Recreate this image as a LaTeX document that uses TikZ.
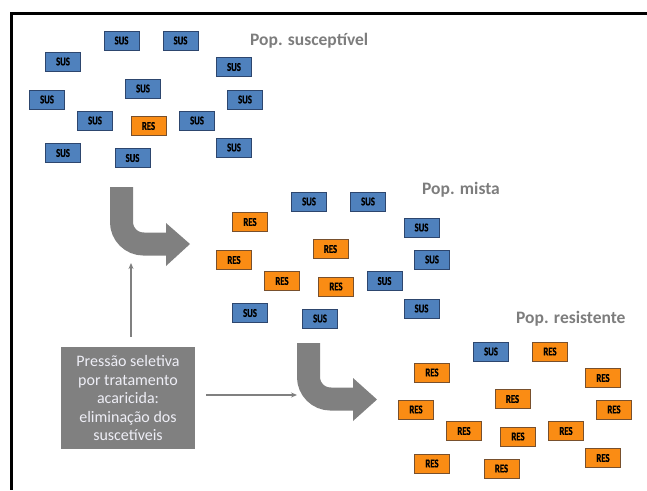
\documentclass[tikz,border=0pt]{standalone}
\usepackage{fontspec}
\setmainfont{Carlito}
\newfontfamily\boxfont[FakeStretch=0.72,FakeBold=0.6]{Carlito}
\usetikzlibrary{arrows.meta}
\definecolor{susblue}{RGB}{79,129,189}
\definecolor{susedge}{RGB}{45,70,110}
\definecolor{resorange}{RGB}{250,140,20}
\definecolor{resedge}{RGB}{120,80,45}
\definecolor{arrowgray}{RGB}{128,128,128}
\definecolor{titlegray}{RGB}{125,125,125}
\definecolor{boxgray}{RGB}{128,128,128}
\definecolor{boxtext}{RGB}{238,238,246}
\begin{document}
\begin{tikzpicture}[x=1pt,y=-1pt,
  cell/.style={draw, line width=0.8pt, minimum width=35pt, minimum height=19pt, inner sep=0pt,
    font=\boxfont\bfseries\fontsize{12}{12}\selectfont, text=black},
  sus/.style={cell, fill=susblue, draw=susedge},
  res/.style={cell, fill=resorange, draw=resedge},
  title/.style={anchor=west, inner sep=0pt, text=titlegray, font=\bfseries\fontsize{17.5}{17.5}\selectfont},
  bigarrow/.style={line width=23pt, draw=arrowgray, rounded corners=22pt},
  thinarrow/.style={draw=arrowgray, line width=1.2pt, -{Stealth[length=6pt,width=5pt]}}
]
\useasboundingbox (0,0) rectangle (647,490);
% frame
\draw[line width=2.8pt] (647,13.5) -- (11.3,13.5) -- (11.3,490);

% population 1
\node[sus] (a1) at (121.5,40.5) {SUS};
\node[sus] (a2) at (180.5,40.5) {SUS};
\node[sus] (a3) at (63,61.5) {SUS};
\node[sus] (a4) at (234,67) {SUS};
\node[sus] (a5) at (143,88.5) {SUS};
\node[sus] (a6) at (47,99.5) {SUS};
\node[sus] (a7) at (245,99.5) {SUS};
\node[sus] (a8) at (95,120.5) {SUS};
\node[res] (a9) at (148.5,126) {RES};
\node[sus] (a10) at (197,120.5) {SUS};
\node[sus] (a11) at (63,153) {SUS};
\node[sus] (a12) at (234,147.5) {SUS};
\node[sus] (a13) at (132.5,158) {SUS};
\node[title] (t1) at (250,41) {Pop. susceptível};

% population 2
\node[res] (b1) at (250,222) {RES};
\node[sus] (b2) at (309,201.5) {SUS};
\node[sus] (b3) at (368,201.5) {SUS};
\node[sus] (b4) at (421.5,227.5) {SUS};
\node[res] (b5) at (330.5,249) {RES};
\node[res] (b6) at (234,260) {RES};
\node[sus] (b7) at (432,259.5) {SUS};
\node[res] (b8) at (282,281) {RES};
\node[res] (b9) at (336,286.5) {RES};
\node[sus] (b10) at (384.5,281) {SUS};
\node[sus] (b11) at (250,313) {SUS};
\node[sus] (b12) at (320,318.5) {SUS};
\node[sus] (b13) at (421.5,308.5) {SUS};
\node[title] (t2) at (422,190) {Pop. mista};

% population 3
\node[sus] (c1) at (491,351.5) {SUS};
\node[res] (c2) at (550,351.5) {RES};
\node[res] (c3) at (432,372.5) {RES};
\node[res] (c4) at (603,378) {RES};
\node[res] (c5) at (512.5,399) {RES};
\node[res] (c6) at (416,409.5) {RES};
\node[res] (c7) at (614,409.5) {RES};
\node[res] (c8) at (464,431) {RES};
\node[res] (c9) at (518,436.5) {RES};
\node[res] (c10) at (566,431) {RES};
\node[res] (c11) at (432,463.5) {RES};
\node[res] (c12) at (603,458) {RES};
\node[res] (c13) at (501.5,468.5) {RES};
\node[title] (t3) at (516,319) {Pop. resistente};

% big curved arrows
\coordinate (p1s) at (121.5,187);
\coordinate (p1c) at (121.5,244);
\coordinate (p1e) at (166.5,244);
\draw[bigarrow] (p1s) -- (p1c) -- (p1e);
\fill[arrowgray] (166,223) -- (190,244) -- (166,266) -- cycle;

\coordinate (p2s) at (308.5,343);
\coordinate (p2c) at (308.5,399);
\coordinate (p2e) at (353.5,399);
\draw[bigarrow] (p2s) -- (p2c) -- (p2e);
\fill[arrowgray] (353,378) -- (377,399.5) -- (353,421) -- cycle;

% selective pressure box
\node[fill=boxgray, minimum width=134pt, minimum height=102pt, inner sep=0pt, align=center,
  text=boxtext, font=\fontsize{16}{18.5}\selectfont] (box) at (128,398)
  {Pressão seletiva\\por tratamento\\acaricida:\\eliminação dos\\suscetíveis};

\coordinate (vtip) at (131,263);
\coordinate (htip) at (297,395);
\draw[thinarrow, shorten <=10pt] (box.north -| vtip) -- (vtip);
\draw[thinarrow, shorten <=11pt] (box.east |- htip) -- (htip);
\end{tikzpicture}
\end{document}
